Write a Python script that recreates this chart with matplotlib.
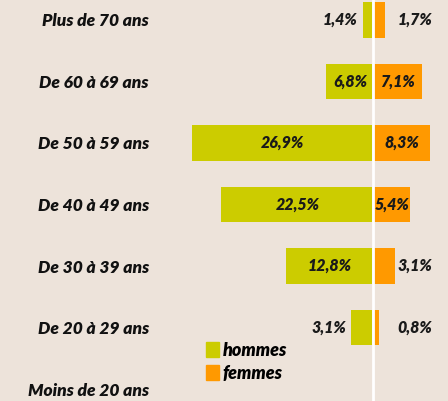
import matplotlib.pyplot as plt
from matplotlib.patches import Patch

categories = ["Moins de 20 ans", "De 20 à 29 ans", "De 30 à 39 ans", "De 40 à 49 ans",
              "De 50 à 59 ans", "De 60 à 69 ans", "Plus de 70 ans"]
hommes = [0.0, 3.1, 12.8, 22.5, 26.9, 6.8, 1.4]
femmes = [0.0, 0.8, 3.1, 5.4, 8.3, 7.1, 1.7]

green = "#CCCC00"
orange = "#FF9900"
bg = "#EDE3DA"
fnt = ["Lato", "DejaVu Sans"]

fig = plt.figure(figsize=(4.48, 4.01), dpi=100, facecolor=bg)
ax = fig.add_axes([160 / 448, 0, 288 / 448, 1])
ax.set_facecolor(bg)

y = list(range(len(categories)))
ax.barh(y, [-h for h in hommes], height=0.585, color=green, left=-0.15)
ax.barh(y, femmes, height=0.585, color=orange, left=0.15)
ax.axvline(0, color="white", lw=2, zorder=3)

ax.set_xlim(-27.0 - 4.8, 11.2)
ax.set_ylim(-0.195, 6.325)

for i in y:
    if hommes[i] == 0:
        continue
    txt = f"{hommes[i]:.1f}%".replace(".", ",")
    if hommes[i] > 5:
        ax.text(-hommes[i] / 2, i, txt, ha="center", va="center", fontsize=11.5,
                fontweight="heavy", style="italic", family=fnt, color="#1a1a1a")
    else:
        ax.text(-hommes[i] - 0.9, i, txt, ha="right", va="center", fontsize=11.5,
                fontweight="heavy", style="italic", family=fnt, color="#1a1a1a")
    txt = f"{femmes[i]:.1f}%".replace(".", ",")
    if femmes[i] > 5:
        ax.text(femmes[i] / 2 + 0.15, i, txt, ha="center", va="center", fontsize=11.5,
                fontweight="heavy", style="italic", family=fnt, color="#1a1a1a")
    else:
        ax.text(3.7, i, txt, ha="left", va="center", fontsize=11.5,
                fontweight="heavy", style="italic", family=fnt, color="#1a1a1a")

ax.set_yticks(y)
ax.set_yticklabels(categories, fontsize=12.5, fontweight="heavy", style="italic", family=fnt,
                   color="#111111")
ax.tick_params(axis="y", length=0, pad=8)
ax.set_xticks([])
for s in ax.spines.values():
    s.set_visible(False)

handles = [Patch(color=green, label="hommes"), Patch(color=orange, label="femmes")]
leg = ax.legend(handles=handles, loc="upper left", bbox_to_anchor=(33 / 288, 72 / 401),
                frameon=False, handlelength=0.75, handleheight=0.9, handletextpad=0.2,
                labelspacing=0.35, borderpad=0.2,
                prop={"family": fnt, "style": "italic", "weight": "heavy", "size": 13})

fig.savefig("out.png", dpi=100, facecolor=bg)
